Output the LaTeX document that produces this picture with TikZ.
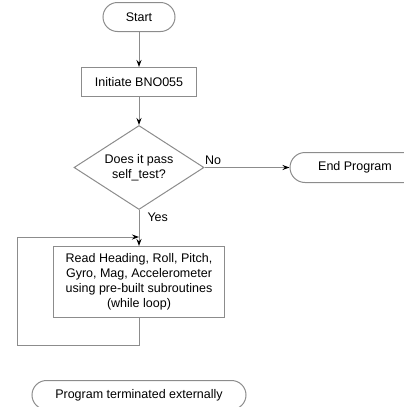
\documentclass[tikz,border=0pt]{standalone}
\usepackage{fontspec}
\setmainfont{Liberation Sans}
\usetikzlibrary{arrows.meta, positioning, calc, shapes.geometric, shapes.misc}
\definecolor{linegray}{HTML}{8C8C8C}

\begin{document}
\begin{tikzpicture}[
    x=1pt, y=-1pt,
    >={Stealth[length=7pt,width=5pt,black]},
    font=\fontsize{12.5}{15}\selectfont,
    every node/.style={inner sep=0pt},
    flowline/.style={draw=linegray, line width=1pt},
    term/.style={
        rounded rectangle,
        draw=linegray,
        line width=1pt,
        minimum height=29pt,
        align=center
    },
    procbox/.style={
        rectangle,
        draw=linegray,
        line width=1pt,
        align=center
    },
    decision/.style={
        diamond,
        draw=linegray,
        line width=1pt,
        aspect=1.55,
        minimum width=130pt,
        minimum height=84pt,
        align=center
    }
]
\useasboundingbox (0,0) rectangle (404,407);

% Nodes
\node[term, minimum width=72pt] (start) at (139,17) {Start};
\node[procbox, minimum width=115pt, minimum height=29pt, below=35pt of start] (init) {Initiate BNO055};
\node[decision, below=28pt of init] (selftest) {Does it pass\\self\_test?};
\node[term, minimum width=130pt, minimum height=30pt, right=85pt of selftest] (endprog) {End Program};
\node[procbox, minimum width=171pt, minimum height=71pt, below=36pt of selftest] (readloop) {Read Heading, Roll, Pitch,\\Gyro, Mag, Accelerometer\\using pre-built subroutines\\(while loop)};
\node[term, minimum width=214pt, below=62pt of readloop] (terminated) {Program terminated externally};

% Loop corners
\coordinate (loopjoin) at ($(readloop.north)+(0,-9)$);
\coordinate (loopbottom) at ($(readloop.south)+(0,27)$);
\coordinate (loopleft) at (17,0);

% Main flow
\draw[flowline, ->] (start.south) -- (init.north);
\draw[flowline, ->] (init.south) -- (selftest.north);
\draw[flowline, ->] (selftest.east) -- node[pos=0, anchor=south west, yshift=2pt] {No} (endprog.west);
\draw[flowline, ->] (selftest.south) -- node[pos=0.2, right=8pt, anchor=west] {Yes} (readloop.north);

% While loop back edge
\draw[flowline, ->] (readloop.south) -- (loopbottom) -| (loopleft |- loopjoin) -- (loopjoin);

\end{tikzpicture}
\end{document}
